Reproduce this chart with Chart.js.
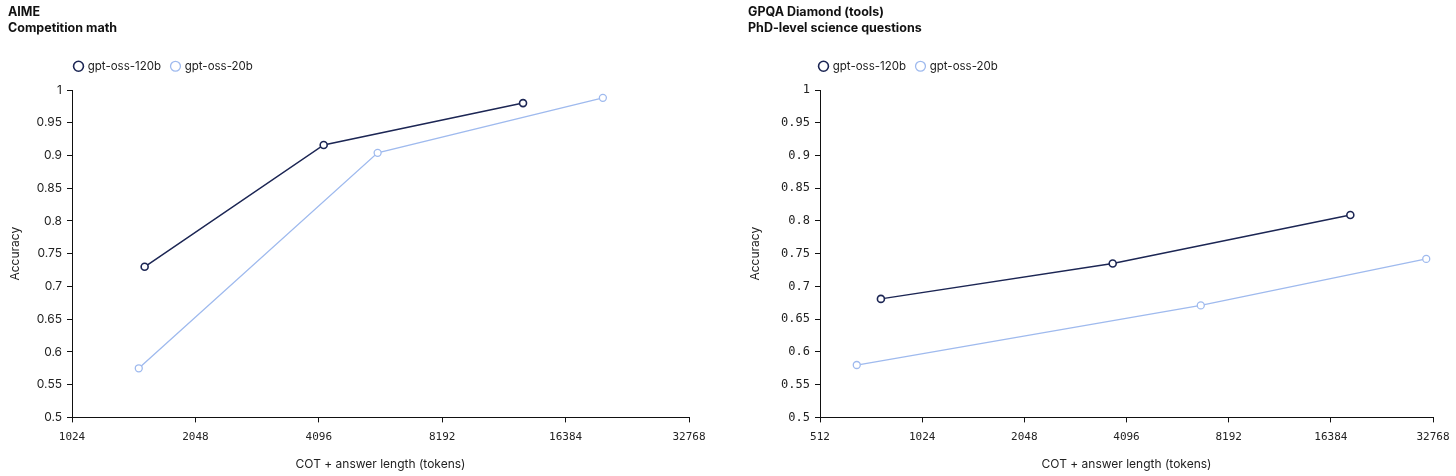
<!DOCTYPE html>
<html>
<head>
<meta charset="utf-8">
<script src="https://cdn.jsdelivr.net/npm/chart.js@4"></script>
<style>
  html, body { margin: 0; padding: 0; background: #fff; overflow: hidden; }
  #wrap { position: relative; width: 1456px; height: 476px; overflow: hidden; }
  .box { position: absolute; top: 0; height: 476px; }
  #left { left: 0; width: 728px; }
  #right { left: 740px; width: 740px; }
</style>
</head>
<body>
<div id="wrap">
  <div class="box" id="left"><canvas id="aimeChart"></canvas></div>
  <div class="box" id="right"><canvas id="gpqaChart"></canvas></div>
</div>
<script>
// ==================== DATA ====================

const seriesNames = ['gpt-oss-120b', 'gpt-oss-20b'];

// AIME - competition math
const aimeTokens120 = [1540, 4210, 12900];
const aimeAcc120 = [0.73, 0.916, 0.98];
const aimeTokens20 = [1490, 5700, 20200];
const aimeAcc20 = [0.575, 0.904, 0.988];
const aimeXTicks = [1024, 2048, 4096, 8192, 16384, 32768];

// GPQA Diamond (tools)
const gpqaTokens120 = [774, 3730, 18700];
const gpqaAcc120 = [0.681, 0.735, 0.809];
const gpqaTokens20 = [657, 6780, 31300];
const gpqaAcc20 = [0.58, 0.671, 0.742];
const gpqaXTicks = [512, 1024, 2048, 4096, 8192, 16384, 32768];

const yMin = 0.5;
const yMax = 1;
const yStep = 0.05;

// ==================== STYLE ====================

const DARK = '#1c2654';
const LIGHT = '#9fbaee';
const SANS = 'Inter, "Noto Sans", sans-serif';
const MONO = '"DejaVu Sans Mono", monospace';

// small nudge for the legend: extra room below it, and pulled left a bit
function legendNudge(shiftLeft) {
    return {
        id: 'legendNudge',
        beforeInit(chart) {
            const origFit = chart.legend.fit;
            chart.legend.fit = function () {
                origFit.call(this);
                this.height += 8;
            };
        },
        afterLayout(chart) {
            chart.legend.left -= shiftLeft;
            chart.legend.right -= shiftLeft;
        }
    };
}

function toPoints(xs, ys) {
    return xs.map((x, i) => ({ x: x, y: ys[i] }));
}

function makeChart(canvasId, titleLines, xs120, ys120, xs20, ys20, xTicks, yFont, yWidth, padRight, legendShift) {
    const ctx = document.getElementById(canvasId).getContext('2d');
    return new Chart(ctx, {
        type: 'line',
        data: {
            datasets: [
                {
                    label: seriesNames[0],
                    data: toPoints(xs120, ys120),
                    borderColor: DARK,
                    backgroundColor: '#fff',
                    borderWidth: 1.5,
                    pointRadius: 3.5,
                    pointBorderWidth: 1.6,
                    pointBackgroundColor: '#fff',
                    pointBorderColor: DARK,
                    tension: 0
                },
                {
                    label: seriesNames[1],
                    data: toPoints(xs20, ys20),
                    borderColor: LIGHT,
                    backgroundColor: '#fff',
                    borderWidth: 1.3,
                    pointRadius: 3.5,
                    pointBorderWidth: 1.3,
                    pointBackgroundColor: '#fff',
                    pointBorderColor: LIGHT,
                    tension: 0
                }
            ]
        },
        options: {
            responsive: true,
            maintainAspectRatio: false,
            animation: false,
            layout: { padding: { left: 8, right: padRight, top: 4, bottom: 0 } },
            plugins: {
                title: {
                    display: true,
                    text: titleLines,
                    align: 'start',
                    color: '#111',
                    font: { family: SANS, size: 12.5, weight: 'bold', lineHeight: 1.3 },
                    padding: { top: 0, bottom: 13 }
                },
                legend: {
                    position: 'top',
                    align: 'start',
                    fullSize: false,
                    labels: {
                        usePointStyle: true,
                        pointStyle: 'circle',
                        boxWidth: 7,
                        boxHeight: 7,
                        padding: 11,
                        color: '#222',
                        font: { family: SANS, size: 11.5 }
                    }
                },
                tooltip: { enabled: false }
            },
            scales: {
                x: {
                    type: 'logarithmic',
                    min: xTicks[0],
                    max: xTicks[xTicks.length - 1],
                    afterBuildTicks: scale => {
                        scale.ticks = xTicks.map(v => ({ value: v }));
                    },
                    ticks: {
                        autoSkip: false,
                        maxRotation: 0,
                        padding: 8,
                        color: '#222',
                        font: { family: MONO, size: 11 },
                        callback: v => String(v)
                    },
                    grid: {
                        display: true,
                        drawOnChartArea: false,
                        drawTicks: true,
                        tickLength: 5,
                        color: '#111'
                    },
                    border: { display: true, color: '#111', width: 1 },
                    title: {
                        display: true,
                        text: 'COT + answer length (tokens)',
                        color: '#222',
                        font: { family: SANS, size: 12 },
                        padding: { top: 6, bottom: 4 }
                    }
                },
                y: {
                    min: yMin,
                    max: yMax,
                    afterFit: scale => { scale.width = yWidth; },
                    ticks: {
                        stepSize: yStep,
                        padding: 5,
                        color: '#222',
                        font: yFont,
                        callback: v => String(Number(v.toFixed(2)))
                    },
                    grid: {
                        display: true,
                        drawOnChartArea: false,
                        drawTicks: true,
                        tickLength: 5,
                        color: '#111'
                    },
                    border: { display: true, color: '#111', width: 1 },
                    title: {
                        display: true,
                        text: 'Accuracy',
                        color: '#222',
                        font: { family: SANS, size: 12 },
                        padding: { top: 0, bottom: 0 }
                    }
                }
            }
        },
        plugins: [legendNudge(legendShift)]
    });
}

makeChart('aimeChart', ['AIME', 'Competition math'],
    aimeTokens120, aimeAcc120, aimeTokens20, aimeAcc20, aimeXTicks,
    { family: SANS, size: 12 }, 64, 39, 8);

makeChart('gpqaChart', ['GPQA Diamond (tools)', 'PhD-level science questions'],
    gpqaTokens120, gpqaAcc120, gpqaTokens20, gpqaAcc20, gpqaXTicks,
    { family: MONO, size: 12 }, 72, 47, 11);
</script>
</body>
</html>
